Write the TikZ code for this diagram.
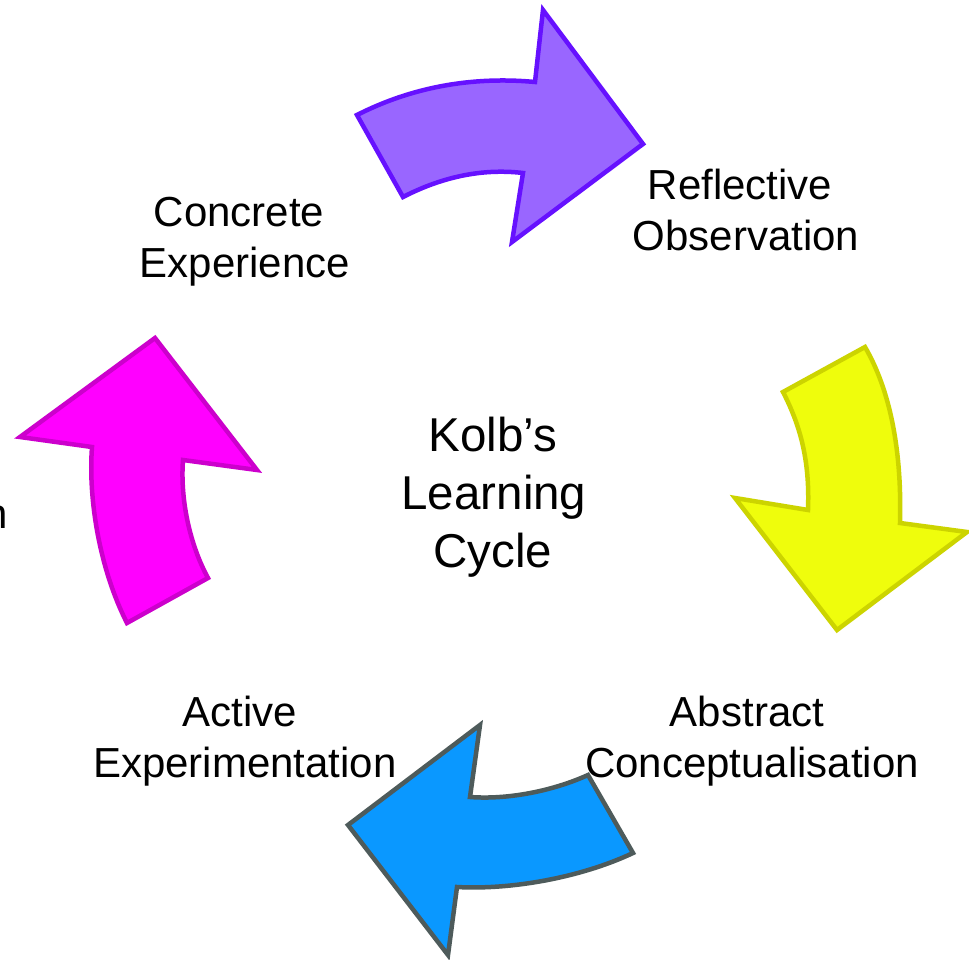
\documentclass[tikz,border=0pt]{standalone}
\usepackage{fontspec}
\setmainfont{Liberation Sans}
\definecolor{violetfill}{HTML}{9966FF}
\definecolor{violetline}{HTML}{6611FF}
\definecolor{yellowfill}{HTML}{EFFD0C}
\definecolor{yellowline}{HTML}{CCD400}
\definecolor{bluefill}{HTML}{0A98FF}
\definecolor{blueline}{HTML}{4E5B5B}
\definecolor{pinkfill}{HTML}{FF00FF}
\definecolor{pinkline}{HTML}{CC00CC}
\tikzset{
  cyclearrow/.style={line width=4.5pt, miter limit=10},
  steplabel/.style={anchor=base, inner sep=0pt, font=\fontsize{42}{51}\selectfont},
  titleline/.style={anchor=base, inner sep=0pt, font=\fontsize{47.5}{58}\selectfont}
}
\begin{document}
\begin{tikzpicture}[x=1pt, y=-1pt]
\useasboundingbox (0,0) rectangle (969,960);
\clip (0,0) rectangle (969,960);
\fill[white] (0,0) rectangle (969,960);

% experience -> observation
\draw[cyclearrow, draw=violetline, fill=violetfill]
  (357,115) .. controls (410,88) and (470,76) .. (535,82)
  -- (543,10) -- (643,144) -- (512,242) -- (523,173)
  .. controls (480,168) and (440,178) .. (403,197) -- cycle;

% observation -> conceptualisation
\draw[cyclearrow, draw=yellowline, fill=yellowfill]
  (865,347) .. controls (890,390) and (902,450) .. (900,523)
  -- (967,532) -- (837,630) -- (735,498) -- (808,510)
  .. controls (810,460) and (800,425) .. (783,392) -- cycle;

% conceptualisation -> experimentation
\draw[cyclearrow, draw=blueline, fill=bluefill]
  (633,853) .. controls (580,878) and (510,890) .. (457,887)
  -- (448,955) -- (348,825) -- (480,725) -- (470,797)
  .. controls (510,800) and (555,790) .. (588,775) -- cycle;

% experimentation -> experience
\draw[cyclearrow, draw=pinkline, fill=pinkfill]
  (127,623) .. controls (100,570) and (88,500) .. (92,447)
  -- (20,437) -- (155,338) -- (257,470) -- (183,460)
  .. controls (180,500) and (190,545) .. (208,578) -- cycle;

% stage labels
\node[steplabel] (ce1) at (239,226) {Concrete};
\node[steplabel] (ce2) at (245,277) {Experience};
\node[steplabel] (ro1) at (740,200) {Reflective};
\node[steplabel] (ro2) at (746,251) {Observation};
\node[steplabel] (ac1) at (747,726) {Abstract};
\node[steplabel] (ac2) at (752,777) {Conceptualisation};
\node[steplabel] (ae1) at (240,726) {Active};
\node[steplabel] (ae2) at (245,777) {Experimentation};
\node[steplabel, anchor=base east] (edge) at (8,528) {n};

% centre title
\node[titleline] (k1) at (493,451) {Kolb’s};
\node[titleline] (k2) at (494,509) {Learning};
\node[titleline] (k3) at (493,567) {Cycle};
\end{tikzpicture}
\end{document}
